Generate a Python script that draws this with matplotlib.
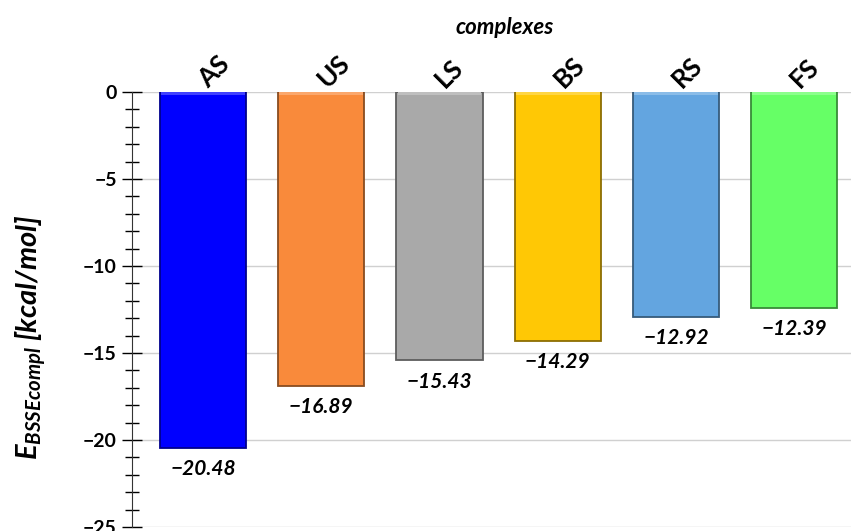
import matplotlib.pyplot as plt
import matplotlib.colors as mcolors
import numpy as np

plt.rcParams['font.family'] = ['Lato', 'DejaVu Sans']
plt.rcParams['mathtext.fontset'] = 'custom'
plt.rcParams['mathtext.it'] = 'Lato:italic:bold'
plt.rcParams['mathtext.rm'] = 'Lato:bold'

# binding energies of the complexes
complexes = ['AS', 'US', 'LS', 'BS', 'RS', 'FS']
energies = [-20.48, -16.89, -15.43, -14.29, -12.92, -12.39]
bar_colors = ['#0000FF', '#F98A3B', '#A9A9A9', '#FFC805', '#63A5E0', '#66FF66']

fig = plt.figure(figsize=(8.51, 5.31), dpi=100)
ax = fig.add_axes([132 / 851, 1 - 527 / 531, 1 - 132 / 851, (527 - 92) / 531])

x = np.arange(len(complexes))
width = 0.73


def shade(c, f):
    r, g, b = mcolors.to_rgb(c)
    return (r * f, g * f, b * f)


def tint(c, f):
    r, g, b = mcolors.to_rgb(c)
    return (r + (1 - r) * f, g + (1 - g) * f, b + (1 - b) * f)


bars = ax.bar(x, energies, width=width, color=bar_colors,
              edgecolor=[shade(c, 0.55) for c in bar_colors], linewidth=1.3, zorder=3)
# soft bevel along the top edge
ax.bar(x, [-0.18] * len(x), width=width * 0.97, color=[tint(c, 0.25) for c in bar_colors],
       linewidth=0, zorder=4)

for xi, v in zip(x, energies):
    ax.annotate(f'\u2212{abs(v):.2f}', (xi, v), xytext=(0, -8), textcoords='offset points',
                ha='center', va='top', fontsize=15, fontweight='bold', fontstyle='italic')

ax.set_ylim(-25, 0)
ax.set_xlim(-0.6, 5.48)
ax.set_yticks(np.arange(-25, 1, 5))
ax.set_yticklabels(['\u221225', '\u221220', '\u221215', '\u221210', '\u22125', '0'],
                   fontsize=14, fontweight='bold')
ax.set_yticks(np.arange(-25, 1, 1), minor=True)
ax.tick_params(axis='y', which='major', direction='inout', length=14, width=1, pad=4)
ax.tick_params(axis='y', which='minor', direction='inout', length=10, width=1)
ax.yaxis.grid(True, color='#D0D0D0', linewidth=1, zorder=0)
ax.set_axisbelow(True)

ax.xaxis.tick_top()
ax.set_xticks(x)
ax.set_xticklabels(complexes, rotation=45, ha='left', va='center', rotation_mode='anchor',
                   fontsize=19, fontweight='bold')
ax.tick_params(axis='x', length=0, pad=6)

for s in ['top', 'right', 'bottom']:
    ax.spines[s].set_visible(False)
ax.spines['left'].set_color('#333333')

fig.text(505 / 851, 1 - 27 / 531, 'complexes', ha='center', va='center',
         fontsize=16, fontweight='bold', fontstyle='italic')
fig.text(31 / 851, 1 - 337 / 531, r'$\mathit{E}_{\mathit{BSSEcompl}}$ [kcal/mol]',
         rotation=90, ha='center', va='center', fontsize=21, fontweight='bold',
         fontstyle='italic')

plt.savefig('out.png', dpi=100)
plt.close()
